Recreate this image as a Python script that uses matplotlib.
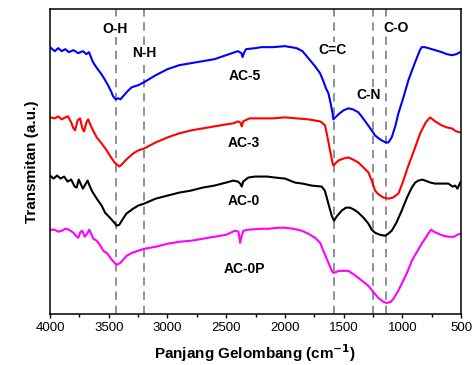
import numpy as np
import matplotlib.pyplot as plt

plt.rcParams['font.family'] = ['Liberation Sans', 'DejaVu Sans']

# FTIR spectra, wavenumber (cm-1) vs transmittance (a.u., stacked)
wn_ac5 = [4000, 3960, 3930, 3900, 3870, 3840, 3800, 3760, 3720, 3690, 3668, 3634, 3600, 3574, 3540, 3506, 3480,
          3463, 3440, 3420, 3400, 3378, 3340, 3304, 3250, 3200, 3100, 3000, 2900, 2800, 2700, 2600, 2500, 2450,
          2400, 2370, 2360, 2345, 2330, 2250, 2200, 2100, 2000, 1950, 1900, 1850, 1800, 1750, 1700, 1675, 1650,
          1629, 1610, 1595, 1587, 1570, 1544, 1500, 1460, 1420, 1374, 1340, 1303, 1260, 1232, 1200, 1175, 1140,
          1118, 1090, 1060, 1033, 990, 948, 910, 877, 850, 834, 810, 778, 720, 664, 620, 578, 540, 507]
t_ac5 = [266, 262, 265, 262, 264, 261, 263, 260, 262, 259, 261, 251, 245, 241, 235, 228, 222,
         217, 214, 215, 214, 217, 222, 226, 228, 231, 238, 244, 248, 250, 252, 254, 258, 260,
         262, 260, 256, 261, 264, 265, 266, 266, 267, 266, 265, 262, 255, 248, 240, 233, 225,
         220, 210, 201, 194, 196, 199, 203, 205, 204, 201, 196, 190, 183, 178, 175, 173, 171,
         171, 176, 187, 200, 216, 233, 245, 255, 263, 266, 266, 265, 263, 261, 259, 258, 259, 261]

wn_ac3 = [4000, 3960, 3930, 3900, 3870, 3847, 3820, 3800, 3787, 3765, 3744, 3725, 3710, 3690, 3675, 3650, 3625,
          3602, 3560, 3517, 3480, 3450, 3410, 3390, 3350, 3292, 3250, 3199, 3100, 3000, 2900, 2800, 2700, 2600,
          2500, 2440, 2400, 2380, 2367, 2355, 2300, 2200, 2100, 2000, 1900, 1800, 1700, 1686, 1658, 1640, 1615,
          1595, 1587, 1570, 1544, 1500, 1459, 1420, 1374, 1330, 1288, 1260, 1232, 1200, 1160, 1118, 1080, 1033,
          1000, 962, 948, 900, 848, 800, 763, 720, 664, 620, 578, 540, 507]
t_ac3 = [196, 195, 197, 194, 196, 197, 191, 185, 183, 193, 195, 185, 182, 191, 194, 187, 181,
         176, 170, 163, 156, 151, 147, 149, 154, 160, 163, 165, 171, 176, 180, 183, 185, 187,
         189, 190, 192, 191, 187, 192, 195, 195, 195, 196, 195, 194, 192, 191, 188, 178, 163,
         151, 148, 150, 153, 155, 156, 154, 151, 146, 141, 133, 123, 119, 116, 115, 116, 120,
         130, 143, 148, 163, 180, 191, 196, 192, 188, 186, 185, 182, 181]

wn_ac0 = [4000, 3970, 3940, 3910, 3880, 3850, 3820, 3790, 3773, 3755, 3740, 3720, 3700, 3680, 3660, 3640, 3602,
          3560, 3531, 3490, 3460, 3432, 3410, 3389, 3350, 3292, 3250, 3199, 3100, 3000, 2900, 2800, 2700, 2600,
          2500, 2440, 2400, 2380, 2367, 2355, 2312, 2254, 2150, 2083, 2000, 1913, 1850, 1771, 1686, 1660, 1643,
          1620, 1601, 1581, 1560, 1516, 1480, 1445, 1410, 1374, 1330, 1288, 1260, 1232, 1190, 1147, 1120, 1090,
          1050, 1005, 960, 919, 890, 863, 830, 806, 760, 721, 660, 607, 570, 550, 530, 507]
t_ac0 = [138, 135, 138, 135, 137, 132, 134, 127, 126, 134, 130, 125, 129, 133, 127, 122, 115,
         108, 101, 96, 92, 88, 89, 93, 100, 105, 108, 110, 115, 118, 121, 123, 126, 128,
         131, 133, 132, 130, 127, 132, 136, 137, 137, 136, 135, 131, 130, 128, 127, 123, 116,
         106, 98, 93, 97, 103, 106, 106, 104, 101, 96, 90, 84, 81, 79, 78, 80, 83,
         91, 103, 116, 126, 131, 133, 134, 133, 131, 130, 130, 130, 127, 128, 125, 131]

wn_ac0p = [4000, 3960, 3930, 3900, 3870, 3840, 3800, 3780, 3759, 3740, 3725, 3705, 3690, 3665, 3650, 3630, 3602,
           3570, 3546, 3510, 3480, 3450, 3432, 3400, 3370, 3347, 3300, 3250, 3199, 3100, 3000, 2900, 2800, 2700,
           2600, 2500, 2424, 2395, 2381, 2370, 2353, 2312, 2200, 2140, 2050, 1998, 1930, 1856, 1800, 1743, 1700,
           1672, 1650, 1629, 1600, 1587, 1560, 1544, 1500, 1459, 1420, 1374, 1330, 1288, 1240, 1203, 1160, 1132,
           1100, 1076, 1040, 1005, 960, 919, 870, 830, 806, 780, 755, 730, 692, 650, 607, 560, 530, 507]
t_ac0p = [84, 84, 82, 83, 85, 84, 81, 78, 76, 82, 83, 77, 79, 84, 80, 75, 73,
          68, 63, 60, 55, 51, 49, 51, 55, 58, 61, 63, 65, 67, 70, 72, 73, 75,
          77, 79, 83, 82, 71, 77, 83, 84, 85, 85, 86, 86, 85, 83, 80, 76, 71,
          63, 57, 51, 43, 41, 42, 43, 43, 43, 40, 36, 32, 28, 21, 16, 12, 11,
          12, 15, 22, 30, 41, 53, 63, 71, 75, 80, 84, 82, 80, 78, 77, 77, 79, 80]

bands = [3441, 3200, 1581, 1251, 1138]
band_labels = ['O-H', 'N-H', 'C=C', 'C-N', 'C-O']
band_label_pos = [(3446, 284), (3195, 260), (1598, 263), (1291, 218), (1053, 285)]

names = ['AC-5', 'AC-3', 'AC-0', 'AC-0P']
colors = ['#0000ff', '#ff0000', '#000000', '#ff00ff']
name_pos = [(2339, 237), (2348, 170), (2348, 113), (2348, 45)]

fig = plt.figure(figsize=(4.75, 3.65), dpi=100)
ax = fig.add_axes([0.1053, 0.1397, 0.8652, 0.8356])

for b in bands:
    ax.axvline(b, color='#7f7f7f', lw=1.2, ls=(0, (5, 3.5)), zorder=1)

series = [(wn_ac5, t_ac5), (wn_ac3, t_ac3), (wn_ac0, t_ac0), (wn_ac0p, t_ac0p)]
for (w, t), c in zip(series, colors):
    ax.plot(w, t, color=c, lw=1.5, zorder=2)

box = dict(facecolor='white', edgecolor='none', pad=1.0)
for lab, (x, y) in zip(band_labels, band_label_pos):
    ax.text(x, y, lab, ha='center', va='center', fontsize=10, fontweight='bold', bbox=box, zorder=3)
for lab, (x, y) in zip(names, name_pos):
    ax.text(x, y, lab, ha='center', va='center', fontsize=10, fontweight='bold', zorder=3)

ax.set_xlim(4000, 500)
ax.set_ylim(0, 304)
ax.set_xticks(np.arange(4000, 499, -500))
ax.set_xticks(np.arange(3750, 500, -500), minor=True)
ax.set_yticks([])
ax.tick_params(axis='x', which='major', direction='out', length=3, width=1, labelsize=9.5, pad=3)
ax.tick_params(axis='x', which='minor', direction='out', length=2, width=1)
for s in ax.spines.values():
    s.set_linewidth(1.1)

ax.set_xlabel('Panjang Gelombang (cm$^{\\mathbf{-1}}$)', fontsize=11, fontweight='bold', labelpad=6)
ax.set_ylabel('Transmitan (a.u.)', fontsize=11, fontweight='bold', labelpad=8)

fig.savefig('out.png', dpi=100)
